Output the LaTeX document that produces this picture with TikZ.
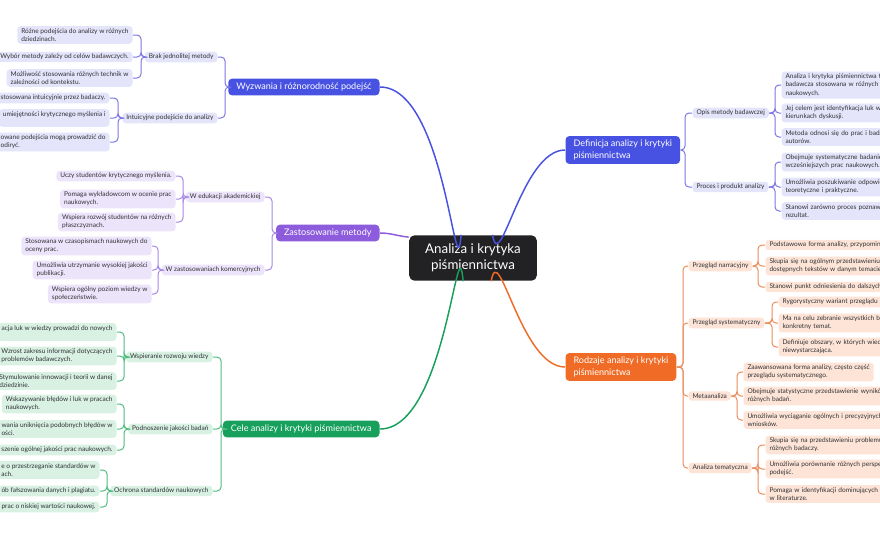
\documentclass[tikz,border=0pt]{standalone}
\usepackage{fontspec}
\setmainfont{Lato}

\definecolor{rootfill}{RGB}{34,34,36}
\definecolor{bluemain}{RGB}{72,82,226}
\definecolor{bluelink}{RGB}{125,118,226}
\definecolor{bluelight}{RGB}{228,228,250}
\definecolor{violetmain}{RGB}{140,92,220}
\definecolor{violetlink}{RGB}{165,135,228}
\definecolor{violetlight}{RGB}{236,228,250}
\definecolor{greenmain}{RGB}{22,160,92}
\definecolor{greenlink}{RGB}{80,188,128}
\definecolor{greenlight}{RGB}{216,241,227}
\definecolor{orangemain}{RGB}{240,108,38}
\definecolor{orangelink}{RGB}{234,140,92}
\definecolor{orangelight}{RGB}{253,228,214}
\definecolor{txtgray}{RGB}{48,48,52}

\tikzset{every picture/.style={line width=0.75pt}}
\tikzset{
  leaf/.style={fill=#1, rounded corners=2.5pt, inner xsep=3pt, inner ysep=1.7pt,
    align=left, text=txtgray, font=\fontsize{4.9}{6.2}\selectfont},
  topic/.style={fill=#1, rounded corners=3pt, inner xsep=6pt, inner ysep=3.2pt,
    align=left, text=white, font=\fontsize{6.8}{8.4}\selectfont},
  cutr/.style={text width=115pt},
  link/.style={draw=#1, rounded corners=3pt},
  mainlink/.style={draw=#1, line width=1.1pt},
}

\begin{document}
\begin{tikzpicture}[x=0.75pt,y=0.75pt,yscale=-1,xscale=1]
\useasboundingbox (0,0) rectangle (880,540);
\clip (0,0) rectangle (880,540);

% root
\node [fill=rootfill, rounded corners=4pt, text=white, align=center, inner xsep=12pt, inner ysep=6.5pt,
  font=\fontsize{10}{12}\selectfont] (root) at (473,258) {Analiza i krytyka\\piśmiennictwa};

% main topics
\node [topic=bluemain, anchor=east] (wyz) at (380,87) {Wyzwania i różnorodność podejść};
\node [topic=violetmain, anchor=east] (zas) at (380,233) {Zastosowanie metody};
\node [topic=greenmain, anchor=east] (cele) at (380,429) {Cele analizy i krytyki piśmiennictwa};
\node [topic=bluemain, anchor=west] (def) at (565,150) {Definicja analizy i krytyki\\piśmiennictwa};
\node [topic=orangemain, anchor=west] (rodz) at (565,367) {Rodzaje analizy i krytyki\\piśmiennictwa};

\draw [mainlink=bluemain] (root.117) to[out=95,in=0] (wyz.east);
\draw [mainlink=violetmain] (root.162) to[out=185,in=0] (zas.east);
\draw [mainlink=greenmain] (root.247) to[out=-95,in=0] (cele.east);
\draw [mainlink=bluemain] (root.50) to[out=80,in=180] (def.west);
\draw [mainlink=orangemain] (root.308) to[out=-80,in=180] (rodz.west);

% Wyzwania
\node [leaf=bluelight, anchor=east] (brak) at (218,57) {Brak jednolitej metody};
\node [leaf=bluelight, anchor=east] (intu) at (218,118) {Intuicyjne podejście do analizy};
\node [leaf=bluelight, anchor=east] (brak1) at (133,35) {Różne podejścia do analizy w różnych\\dziedzinach.};
\node [leaf=bluelight, anchor=east] (brak2) at (133,57) {Wybór metody zależy od celów badawczych.};
\node [leaf=bluelight, anchor=east] (brak3) at (133,78) {Możliwość stosowania różnych technik w\\zależności od kontekstu.};
\node [leaf=bluelight, anchor=east] (intu1) at (110,98) {stosowana intuicyjnie przez badaczy.};
\node [leaf=bluelight, anchor=east] (intu2) at (110,118) {umiejętności krytycznego myślenia i\\\mbox{}};
\node [leaf=bluelight, anchor=east] (intu3) at (110,142) {owane podejścia mogą prowadzić do\\odiryć.};
\coordinate (wyzfork) at (225,0);
\coordinate (brakfork) at (141,0);
\coordinate (intufork) at (118,0);
\foreach \c in {brak,intu}
  \draw [link=bluelink] (wyz.west) -- (wyz.west -| wyzfork) |- (\c.east);
\foreach \c in {brak1,brak2,brak3}
  \draw [link=bluelink] (brak.west) -- (brak.west -| brakfork) |- (\c.east);
\foreach \c in {intu1,intu2,intu3}
  \draw [link=bluelink] (intu.west) -- (intu.west -| intufork) |- (\c.east);

% Zastosowanie
\node [leaf=violetlight, anchor=east] (edu) at (265,197) {W edukacji akademickiej};
\node [leaf=violetlight, anchor=east] (kom) at (265,270) {W zastosowaniach komercyjnych};
\node [leaf=violetlight, anchor=east] (edu1) at (176,176) {Uczy studentów krytycznego myślenia.};
\node [leaf=violetlight, anchor=east] (edu2) at (176,199) {Pomaga wykładowcom w ocenie prac\\naukowych.};
\node [leaf=violetlight, anchor=east] (edu3) at (176,222) {Wspiera rozwój studentów na różnych\\płaszczyznach.};
\node [leaf=violetlight, anchor=east] (kom1) at (152,246) {Stosowana w czasopismach naukowych do\\oceny prac.};
\node [leaf=violetlight, anchor=east] (kom2) at (152,270) {Umożliwia utrzymanie wysokiej jakości\\publikacji.};
\node [leaf=violetlight, anchor=east] (kom3) at (152,294) {Wspiera ogólny poziom wiedzy w\\społeczeństwie.};
\coordinate (zasfork) at (272,0);
\coordinate (edufork) at (183,0);
\coordinate (komfork) at (158,0);
\foreach \c in {edu,kom}
  \draw [link=violetlink] (zas.west) -- (zas.west -| zasfork) |- (\c.east);
\foreach \c in {edu1,edu2,edu3}
  \draw [link=violetlink] (edu.west) -- (edu.west -| edufork) |- (\c.east);
\foreach \c in {kom1,kom2,kom3}
  \draw [link=violetlink] (kom.west) -- (kom.west -| komfork) |- (\c.east);

% Cele
\node [leaf=greenlight, anchor=east] (wsp) at (213,357) {Wspieranie rozwoju wiedzy};
\node [leaf=greenlight, anchor=east] (pod) at (213,429) {Podnoszenie jakości badań};
\node [leaf=greenlight, anchor=east] (och) at (213,491) {Ochrona standardów naukowych};
\node [leaf=greenlight, anchor=east] (wsp1) at (117,332) {acja luk w wiedzy prowadzi do nowych\\\mbox{}};
\node [leaf=greenlight, anchor=east] (wsp2) at (117,356) {Wzrost zakresu informacji dotyczących\\problemów badawczych.};
\node [leaf=greenlight, anchor=east] (wsp3) at (117,381) {Stymulowanie innowacji i teorii w danej\\dziedzinie.};
\node [leaf=greenlight, anchor=east] (pod1) at (117,404) {Wskazywanie błędów i luk w pracach\\naukowych.};
\node [leaf=greenlight, anchor=east] (pod2) at (117,429) {wania uniknięcia podobnych błędów w\\ości.};
\node [leaf=greenlight, anchor=east] (pod3) at (117,450) {szenie ogólnej jakości prac naukowych.};
\node [leaf=greenlight, anchor=east] (och1) at (100,470) {e o przestrzeganie standardów w\\ach.};
\node [leaf=greenlight, anchor=east] (och2) at (100,491) {ób fałszowania danych i plagiatu.};
\node [leaf=greenlight, anchor=east] (och3) at (100,507) {prac o niskiej wartości naukowej.};
\coordinate (celefork) at (221,0);
\coordinate (wspfork) at (124,0);
\coordinate (podfork) at (124,0);
\coordinate (ochfork) at (107,0);
\foreach \c in {wsp,pod,och}
  \draw [link=greenlink] (cele.west) -- (cele.west -| celefork) |- (\c.east);
\foreach \c in {wsp1,wsp2,wsp3}
  \draw [link=greenlink] (wsp.west) -- (wsp.west -| wspfork) |- (\c.east);
\foreach \c in {pod1,pod2,pod3}
  \draw [link=greenlink] (pod.west) -- (pod.west -| podfork) |- (\c.east);
\foreach \c in {och1,och2,och3}
  \draw [link=greenlink] (och.west) -- (och.west -| ochfork) |- (\c.east);

% Definicja
\node [leaf=bluelight, anchor=west] (opis) at (692,113) {Opis metody badawczej};
\node [leaf=bluelight, anchor=west] (proc) at (692,187) {Proces i produkt analizy};
\node [leaf=bluelight, anchor=west, cutr] (opis1) at (781,85) {Analiza i krytyka piśmiennictwa to\\badawcza stosowana w różnych d\\naukowych.};
\node [leaf=bluelight, anchor=west, cutr] (opis2) at (781,113) {Jej celem jest identyfikacja luk w\\kierunkach dyskusji.};
\node [leaf=bluelight, anchor=west, cutr] (opis3) at (781,137) {Metoda odnosi się do prac i bada\\autorów.};
\node [leaf=bluelight, anchor=west, cutr] (proc1) at (781,162) {Obejmuje systematyczne badanie\\wcześniejszych prac naukowych.};
\node [leaf=bluelight, anchor=west, cutr] (proc2) at (781,187) {Umożliwia poszukiwanie odpowie\\teoretyczne i praktyczne.};
\node [leaf=bluelight, anchor=west, cutr] (proc3) at (781,211) {Stanowi zarówno proces poznaw\\rezultat.};
\coordinate (deffork) at (685,0);
\coordinate (opisfork) at (775,0);
\coordinate (procfork) at (775,0);
\foreach \c in {opis,proc}
  \draw [link=bluelink] (def.east) -- (def.east -| deffork) |- (\c.west);
\foreach \c in {opis1,opis2,opis3}
  \draw [link=bluelink] (opis.east) -- (opis.east -| opisfork) |- (\c.west);
\foreach \c in {proc1,proc2,proc3}
  \draw [link=bluelink] (proc.east) -- (proc.east -| procfork) |- (\c.west);

% Rodzaje
\node [leaf=orangelight, anchor=west] (narr) at (688,266) {Przegląd narracyjny};
\node [leaf=orangelight, anchor=west] (syst) at (688,323) {Przegląd systematyczny};
\node [leaf=orangelight, anchor=west] (meta) at (688,396) {Metaanaliza};
\node [leaf=orangelight, anchor=west] (tema) at (688,468) {Analiza tematyczna};
\node [leaf=orangelight, anchor=west, cutr] (narr1) at (765,245) {Podstawowa forma analizy, przypomin};
\node [leaf=orangelight, anchor=west, cutr] (narr2) at (765,266) {Skupia się na ogólnym przedstawieniu\\dostępnych tekstów w danym temacie};
\node [leaf=orangelight, anchor=west, cutr] (narr3) at (765,287) {Stanowi punkt odniesienia do dalszych};
\node [leaf=orangelight, anchor=west, cutr] (syst1) at (778,302) {Rygorystyczny wariant przeglądu};
\node [leaf=orangelight, anchor=west, cutr] (syst2) at (778,323) {Ma na celu zebranie wszystkich ba\\konkretny temat.};
\node [leaf=orangelight, anchor=west, cutr] (syst3) at (778,347) {Definiuje obszary, w których wiedz\\niewystarczająca.};
\node [leaf=orangelight, anchor=west] (meta1) at (743,372) {Zaawansowana forma analizy, często część\\przeglądu systematycznego.};
\node [leaf=orangelight, anchor=west, cutr] (meta2) at (743,396) {Obejmuje statystyczne przedstawienie wyników\\różnych badań.};
\node [leaf=orangelight, anchor=west, cutr] (meta3) at (743,420) {Umożliwia wyciąganie ogólnych i precyzyjnych\\wniosków.};
\node [leaf=orangelight, anchor=west, cutr] (tema1) at (765,445) {Skupia się na przedstawieniu problemu\\różnych badaczy.};
\node [leaf=orangelight, anchor=west, cutr] (tema2) at (765,469) {Umożliwia porównanie różnych perspe\\podejść.};
\node [leaf=orangelight, anchor=west, cutr] (tema3) at (765,494) {Pomaga w identyfikacji dominujących t\\w literaturze.};
\coordinate (rodzfork) at (683,0);
\coordinate (narrfork) at (758,0);
\coordinate (systfork) at (772,0);
\coordinate (metafork) at (737,0);
\coordinate (temafork) at (758,0);
\foreach \c in {narr,syst,meta,tema}
  \draw [link=orangelink] (rodz.east) -- (rodz.east -| rodzfork) |- (\c.west);
\foreach \c in {narr1,narr2,narr3}
  \draw [link=orangelink] (narr.east) -- (narr.east -| narrfork) |- (\c.west);
\foreach \c in {syst1,syst2,syst3}
  \draw [link=orangelink] (syst.east) -- (syst.east -| systfork) |- (\c.west);
\foreach \c in {meta1,meta2,meta3}
  \draw [link=orangelink] (meta.east) -- (meta.east -| metafork) |- (\c.west);
\foreach \c in {tema1,tema2,tema3}
  \draw [link=orangelink] (tema.east) -- (tema.east -| temafork) |- (\c.west);

\end{tikzpicture}
\end{document}
